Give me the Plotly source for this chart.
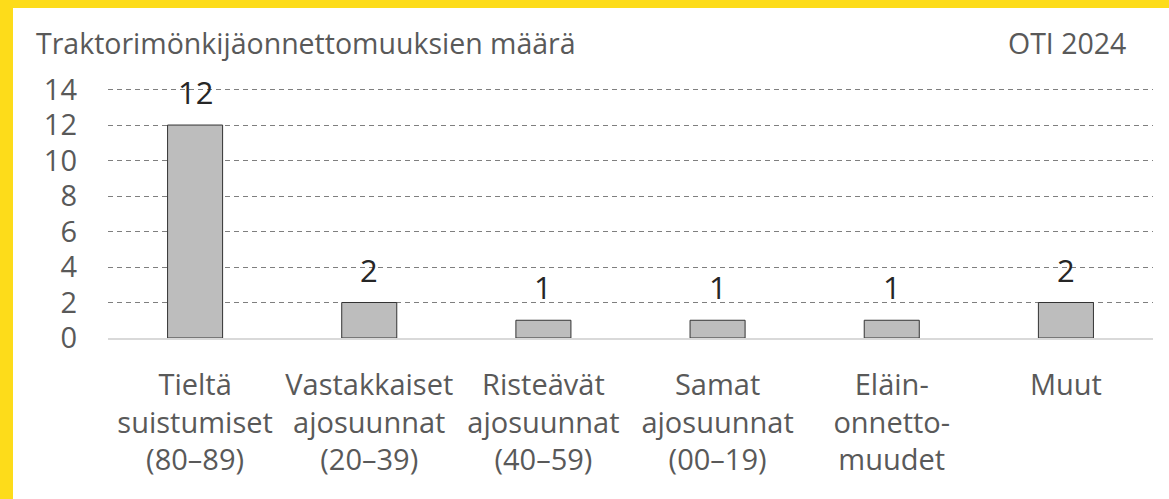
import plotly.graph_objects as go

categories = [
    "Tieltä<br>suistumiset<br>(80–89)",
    "Vastakkaiset<br>ajosuunnat<br>(20–39)",
    "Risteävät<br>ajosuunnat<br>(40–59)",
    "Samat<br>ajosuunnat<br>(00–19)",
    "Eläin-<br>onnetto-<br>muudet",
    "Muut",
]
values = [12, 2, 1, 1, 1, 2]
y_ticks = [0, 2, 4, 6, 8, 10, 12, 14]
title_text = "Traktorimönkijäonnettomuuksien määrä"
source_text = "OTI 2024"

W, H = 1169, 499
PXU = 17.71                     # pixels per y unit
Y_TOP = 14.2                    # a little above 14 so the top gridline is drawn
L, R, B = 108, 1153, 338
T = round(90 - (Y_TOP - 14) * PXU)

def px_x(p):
    return (p - L) / (R - L)

def px_y(p):
    return (B - p) / (B - T)

FONT = "Open Sans"
GREY = "#595959"
YELLOW = "#FDDC1A"

fig = go.Figure()
fig.add_trace(go.Bar(
    x=categories,
    y=values,
    width=0.316,
    marker=dict(color="#BDBDBD", line=dict(color="#333333", width=1)),
    hoverinfo="skip",
    cliponaxis=False,
))

for c, v in zip(categories, values):
    fig.add_annotation(
        x=c, y=v, text=str(v), showarrow=False,
        yanchor="bottom", yshift=10,
        font=dict(family=FONT, size=31, color="#262626"),
    )

fig.add_annotation(
    xref="paper", yref="paper", x=px_x(34), y=px_y(43),
    xanchor="left", yanchor="middle", text=title_text, showarrow=False,
    font=dict(family=FONT, size=28.5, color=GREY),
)
fig.add_annotation(
    xref="paper", yref="paper", x=px_x(1128), y=px_y(43),
    xanchor="right", yanchor="middle", text=source_text, showarrow=False,
    font=dict(family=FONT, size=28.5, color=GREY),
)

fig.update_layout(
    width=W, height=H,
    margin=dict(l=L, r=W - R, t=T, b=H - B, pad=0),
    paper_bgcolor="white", plot_bgcolor="white",
    showlegend=False,
    font=dict(family=FONT, size=29, color=GREY),
    xaxis=dict(
        showgrid=False, showline=True, linecolor="#D9D9D9", linewidth=2,
        ticks="", ticklabelstandoff=20,
        tickfont=dict(family=FONT, size=29, color=GREY),
    ),
    yaxis=dict(
        range=[0, Y_TOP], tickvals=y_ticks, showgrid=True,
        gridcolor="#7F7F7F", gridwidth=1, griddash="5px,4px",
        zeroline=False, showline=False, ticks="", ticklabelstandoff=30,
        tickfont=dict(family=FONT, size=29, color=GREY),
    ),
)

# yellow frame on the left (13px) and top (8px) edges of the page
post = """
document.documentElement.style.background='white';
document.documentElement.style.overflow='hidden';
document.body.style.margin='0';
document.body.style.background='white';
document.body.style.overflow='hidden';
function bar(css){var d=document.createElement('div');
  d.style.cssText='position:fixed;z-index:10;pointer-events:none;background:%s;'+css;
  document.body.appendChild(d);}
bar('left:0;top:0;width:13px;height:100%%;');
bar('left:0;top:0;width:100%%;height:8px;');
""" % YELLOW

fig.write_html("out.html", config={"displayModeBar": False}, post_script=post)
